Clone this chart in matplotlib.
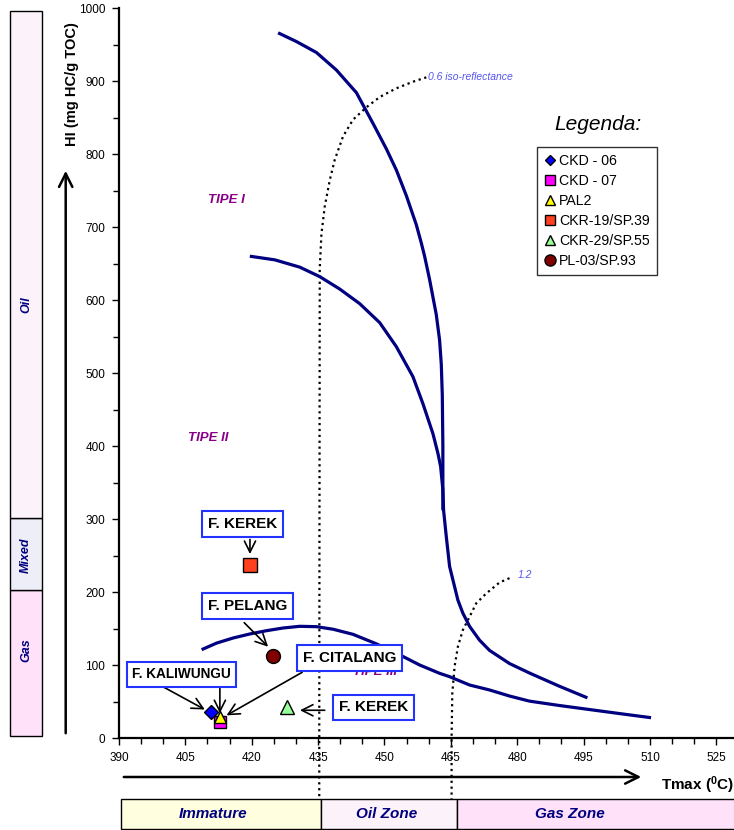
import numpy as np
import matplotlib
matplotlib.use("Agg")
import matplotlib.pyplot as plt
from matplotlib.lines import Line2D
from matplotlib.patches import Rectangle, FancyArrowPatch

plt.rcParams['font.family'] = ['Liberation Sans', 'DejaVu Sans']
plt.rcParams['mathtext.fontset'] = 'custom'
plt.rcParams['mathtext.rm'] = 'Liberation Sans'
plt.rcParams['mathtext.bf'] = 'Liberation Sans:bold'

# kerogen type boundary curves (Tmax, HI)
tipe1_x = [425.96, 430.11, 434.63, 439.14, 443.66, 447.40, 450.43, 452.69, 454.94, 457.20,
           458.33, 459.07, 460.20, 461.71, 462.46, 462.84, 463.07, 463.20, 463.20]
tipe1_y = [966, 954, 939, 915, 884, 842, 807, 778, 743, 703, 678, 660, 628, 580, 545, 512,
           470, 400, 312]
tipe2_x = [419.57, 425.21, 430.86, 435.37, 439.89, 444.40, 448.92, 452.69, 456.43, 458.69,
           460.95, 462.08, 462.69, 463.20, 463.36, 463.97, 464.72, 466.59, 467.72, 469.23,
           471.49, 473.75, 478.26, 482.78, 489.5, 495.87]
tipe2_y = [660, 655, 645, 632, 615, 595, 569, 536, 495, 458, 417, 390, 372, 340, 312, 276,
           235, 189, 171, 153, 134, 120, 102, 89, 71, 55]
tipe3_x = [408.67, 412.05, 415.80, 419.57, 423.34, 427.09, 430.86, 434.63, 438.37, 442.89,
           448.17, 453.43, 457.95, 462.46, 464.72, 469.23, 473.75, 478.26, 482.78, 489.55,
           496.32, 503.09, 510.25]
tipe3_y = [121, 130, 137, 142.5, 147, 150.7, 153, 152.5, 149, 142, 129, 114, 100, 88.6, 84,
           72.6, 65.8, 57.5, 50.5, 44.5, 39.0, 33.5, 27.8]

# iso-reflectance lines
ro06_x = [459.46, 456.43, 452.69, 448.92, 445.91, 442.89, 440.63, 438.76, 437.63, 436.50,
          435.76, 435.37, 435.26, 435.26]
ro06_y = [905, 899, 890, 878, 864, 847, 824, 792, 764, 728, 691, 643, 0, -84]
ro12_x = [478.26, 476.00, 473.00, 470.74, 469.23, 467.72, 466.59, 465.85, 465.33, 465.17, 465.17]
ro12_y = [219, 213, 198, 184.5, 166, 148, 125, 98, 61, 0, -84]

# samples
samples = ['CKD - 06', 'CKD - 07', 'PAL2', 'CKR-19/SP.39', 'CKR-29/SP.55', 'PL-03/SP.93']
tmax = [410.9, 412.8, 412.8, 419.7, 427.9, 424.7]
hi = [35, 22, 29, 237, 43, 112]
markers = ['D', 's', '^', 's', '^', 'o']
colors = ['#0000FF', '#FF00FF', '#FFFF00', '#FF4020', '#99FF99', '#800000']
msizes = [7, 9, 9, 9.5, 9.5, 10]

fig = plt.figure(figsize=(7.34, 8.30), dpi=100)
W, H = 734.0, 830.0

ax = fig.add_axes([119 / W, 92 / H, 615 / W, 730 / H])
ax.set_xlim(390, 529)
ax.set_ylim(0, 1000)
for s in ['top', 'right']:
    ax.spines[s].set_visible(False)
for s in ['left', 'bottom']:
    ax.spines[s].set_linewidth(1.6)
ax.set_xticks(np.arange(390, 530, 15))
ax.set_xticks(np.arange(390, 530, 5), minor=True)
ax.set_yticks(np.arange(0, 1001, 100))
ax.set_yticks(np.arange(0, 1001, 50), minor=True)
ax.tick_params(which='major', direction='out', length=5, width=1, labelsize=8.5, pad=5)
ax.tick_params(which='minor', direction='out', length=4, width=1)

navy = '#000080'
for cx, cy in [(tipe1_x, tipe1_y), (tipe2_x, tipe2_y), (tipe3_x, tipe3_y)]:
    ax.plot(cx, cy, color=navy, lw=2.3, zorder=3, solid_joinstyle='round', solid_capstyle='butt')
ax.plot(ro06_x, ro06_y, color='black', ls=':', lw=1.6, clip_on=False, zorder=2)
ax.plot(ro12_x, ro12_y, color='black', ls=':', lw=1.6, clip_on=False, zorder=2)
ax.text(459.8, 905, '0.6 iso-reflectance', color='#5555EE', style='italic', fontsize=7.5, va='center')
ax.text(480.1, 223, '1.2', color='#5555EE', style='italic', fontsize=7.5, va='center')

purple = '#880088'
ax.text(414.2, 737, 'TIPE I', color=purple, fontsize=9.5, weight='bold', style='italic', ha='center', va='center')
ax.text(410.1, 411, 'TIPE II', color=purple, fontsize=9.5, weight='bold', style='italic', ha='center', va='center')
ax.text(447.8, 90, 'TIPE III', color=purple, fontsize=9.5, weight='bold', style='italic', ha='center', va='center', zorder=2)

for i in range(len(samples)):
    ax.plot(tmax[i], hi[i], marker=markers[i], color=colors[i], mec='black', mew=1,
            ms=msizes[i], ls='none', zorder=6, clip_on=False)

box = dict(boxstyle='square,pad=0.38', fc='white', ec='#2233FF', lw=1.5)
arr = dict(arrowstyle='->,head_length=0.8,head_width=0.4', color='black', lw=1.2, shrinkA=0, shrinkB=0)
ax.text(418.0, 293, 'F. KEREK', fontsize=11, weight='bold', ha='center', va='center', bbox=box, zorder=7)
ax.annotate('', xy=(419.6, 252), xytext=(419.6, 272), arrowprops=arr)
ax.text(419.1, 181, 'F. PELANG', fontsize=11, weight='bold', ha='center', va='center', bbox=box, zorder=7)
ax.annotate('', xy=(423.7, 125), xytext=(418.3, 158), arrowprops=arr)
ax.text(442.1, 110, 'F. CITALANG', fontsize=11, weight='bold', ha='center', va='center', bbox=box, zorder=7)
ax.annotate('', xy=(414.3, 31), xytext=(431.4, 90), arrowprops=arr)
ax.text(404.2, 87, 'F. KALIWUNGU', fontsize=9.8, weight='bold', ha='center', va='center', bbox=box, zorder=7)
ax.annotate('', xy=(409.4, 39), xytext=(400.0, 70), arrowprops=arr)
ax.annotate('', xy=(412.8, 34), xytext=(412.8, 68), arrowprops=arr)
ax.text(447.6, 42, 'F. KEREK', fontsize=11, weight='bold', ha='center', va='center', bbox=box, zorder=7)
ax.annotate('', xy=(430.9, 38), xytext=(436.5, 38), arrowprops=arr)

# legend
handles = [Line2D([], [], marker=markers[i], color=colors[i], mec='black', mew=1,
                  ms=msizes[i] * 0.8, ls='none') for i in range(len(samples))]
leg = fig.legend(handles, samples, loc='upper left', bbox_to_anchor=(537 / W, 1 - 147 / H),
                 bbox_transform=fig.transFigure, fontsize=10.2, frameon=True, fancybox=False,
                 edgecolor='black', handlelength=0.8, handletextpad=0.25, labelspacing=0.42,
                 borderpad=0.5, borderaxespad=0)
leg.get_frame().set_linewidth(1)
fig.text(598 / W, 1 - 125 / H, 'Legenda:', fontsize=15, style='italic', ha='center', va='center')

# axis labels and arrows
fig.text(72 / W, 1 - 84 / H, 'HI (mg HC/g TOC)', rotation=90, fontsize=10.5, weight='bold',
         ha='center', va='center')
fig.text(734 / W, 1 - 785 / H, r'Tmax ($\mathbf{^{0}}$C)', fontsize=11, weight='bold', ha='right', va='center')
fig.patches.append(FancyArrowPatch(
    (65.7 / W, 1 - 736 / H), (65.7 / W, 1 - 168 / H), transform=fig.transFigure,
    arrowstyle='->,head_length=6,head_width=3', color='black', lw=1.8, mutation_scale=1.6))
fig.patches.append(FancyArrowPatch(
    (121 / W, 1 - 777 / H), (644 / W, 1 - 777 / H), transform=fig.transFigure,
    arrowstyle='->,head_length=6,head_width=3', color='black', lw=1.8, mutation_scale=1.6))

# left generation bar
zone_names = ['Gas', 'Mixed', 'Oil']
zone_cols = ['#FFE2FA', '#EEEEF8', '#FCF2F9']
zone_txt_y = [121, 251, 593]
zone_lo = [3, 203, 301]
zone_hi = [203, 301, 996]
axl = fig.add_axes([10 / W, 92 / H, 32 / W, 730 / H])
axl.set_xlim(0, 1)
axl.set_ylim(0, 1000)
axl.axis('off')
for i in range(3):
    axl.add_patch(Rectangle((0, zone_lo[i]), 1, zone_hi[i] - zone_lo[i], fc=zone_cols[i],
                            ec='black', lw=1, clip_on=False))
    axl.text(0.5, zone_txt_y[i], zone_names[i], rotation=90, color=navy, fontsize=9,
             weight='bold', style='italic', ha='center', va='center')

# bottom maturity bar
mat_names = ['Immature', 'Oil Zone', 'Gas Zone']
mat_edges = [390.45, 435.6, 466.3, 545]
mat_cols = ['#FFFFE0', '#FCF2F9', '#FFE2FA']
mat_txt_x = [411.2, 450.5, 492.0]
axb = fig.add_axes([119 / W, 1 / H, 615 / W, 30 / H])
axb.set_xlim(390, 529)
axb.set_ylim(0, 1)
axb.axis('off')
for i in range(3):
    axb.add_patch(Rectangle((mat_edges[i], 0), mat_edges[i + 1] - mat_edges[i], 1,
                            fc=mat_cols[i], ec='black', lw=1, clip_on=False))
    axb.text(mat_txt_x[i], 0.5, mat_names[i], color=navy, fontsize=11, weight='bold',
             style='italic', ha='center', va='center')

fig.savefig('out.png', dpi=100)
